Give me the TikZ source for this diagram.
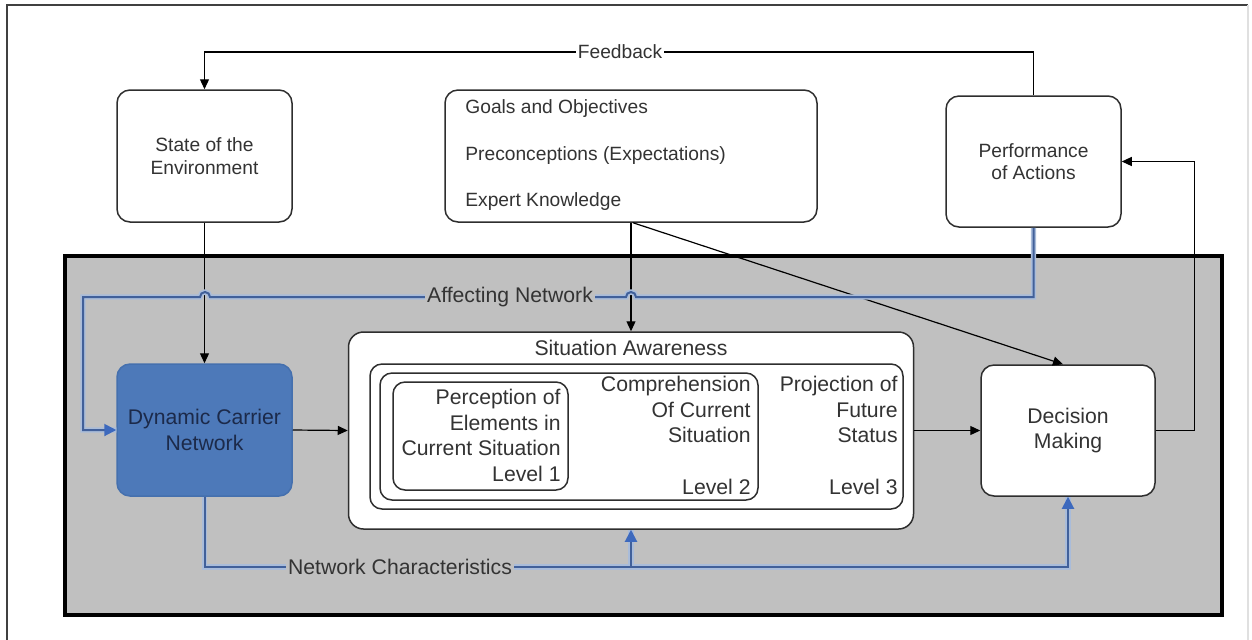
\documentclass[tikz,border=0pt]{standalone}
\usepackage{fontspec}
\setmainfont{Liberation Sans}
\usetikzlibrary{arrows.meta,calc}

\definecolor{panelgray}{HTML}{C0C0C0}
\definecolor{txtgray}{HTML}{333333}
\definecolor{linegray}{HTML}{2E2E2E}
\definecolor{dcnfill}{HTML}{4D79B9}
\definecolor{dcnedge}{HTML}{4570AE}
\definecolor{dcntext}{HTML}{1C2A4A}
\definecolor{netblue}{HTML}{41609A}
\definecolor{halo}{HTML}{A9BCDA}
\definecolor{tipblue}{HTML}{3D69BD}

\begin{document}
\begin{tikzpicture}[x=0.5pt,y=-0.5pt,
  outerfont/.style={font=\fontsize{9.6}{11.25}\selectfont},
  innerfont/.style={font=\fontsize{10.6}{12.75}\selectfont},
  box/.style={draw=linegray, line width=0.75pt, fill=white, rounded corners=6.5pt,
              inner sep=0pt, align=center, text=txtgray},
  conn/.style={draw=black, line width=0.6pt},
  tip/.style={-{Triangle[length=5pt,width=4.5pt]}},
  haloline/.style={draw=halo, line width=2.6pt},
  blueline/.style={draw=netblue, line width=1pt},
  bluetip/.style={-{Triangle[length=6pt,width=6pt,color=tipblue,fill=tipblue]}},
  lbl/.style={inner sep=1pt, text=txtgray}
]
\useasboundingbox (0,0) rectangle (1252,639);

% page frame
\draw[draw=black!75, line width=0.7pt] (7,650) -- (7,5) -- (1248,5);
\draw[draw=black!12, line width=0.6pt] (1248,5) -- (1248,650);

% shaded network panel
\draw[fill=panelgray, draw=black, line width=2pt] (65,256) rectangle (1222,615);

% upper boxes
\node[box, outerfont, minimum width=87.5pt, minimum height=66pt] (state) at (204.5,156)
  {State of the\\Environment};
\node[box, minimum width=186pt, minimum height=66pt] (goals) at (631,156) {};
\node[lbl, outerfont, anchor=west, align=left, inner sep=0pt,
      font=\fontsize{9.6}{23.25}\selectfont] (goalstext) at (465,155.5)
  {Goals and Objectives\\Preconceptions (Expectations)\\Expert Knowledge};
\node[box, outerfont, minimum width=87.5pt, minimum height=65.5pt] (perf) at (1033.5,161.5)
  {Performance\\of Actions};

% boxes inside the panel
\node[box, innerfont, fill=dcnfill, draw=dcnedge, text=dcntext,
      minimum width=87.5pt, minimum height=66pt] (dcn) at (204.5,430)
  {Dynamic Carrier\\Network};
\node[box, innerfont, minimum width=87pt, minimum height=65.5pt] (dm) at (1068,430.5)
  {Decision\\Making};

% situation awareness and its nested levels
\node[box, rounded corners=7.5pt, minimum width=282.5pt, minimum height=98.5pt] (sa) at (631,430.5) {};
\node[lbl, innerfont] (satitle) at (631,348) {Situation Awareness};
\node[box, rounded corners=6pt, minimum width=266.5pt, minimum height=72.5pt] (lvthree) at (636.5,436.5) {};
\node[box, rounded corners=6pt, minimum width=189pt, minimum height=63.5pt] (lvtwo) at (569,436.5) {};
\node[box, rounded corners=6pt, minimum width=87.5pt, minimum height=54pt] (lvone) at (480.5,436) {};

\node[lbl, innerfont, inner sep=0pt, anchor=east, align=right] (lvonetext) at (561,435.5)
  {Perception of\\Elements in\\Current Situation\\Level 1};
\node[lbl, innerfont, inner sep=0pt, anchor=east, align=right] (lvtwotext) at (751,409.5)
  {Comprehension\\Of Current\\Situation};
\node[lbl, innerfont, inner sep=0pt, anchor=east] (lvtwotag) at (751,487) {Level 2};
\node[lbl, innerfont, inner sep=0pt, anchor=east, align=right] (lvthreetext) at (898,409.5)
  {Projection of\\Future\\Status};
\node[lbl, innerfont, inner sep=0pt, anchor=east] (lvthreetag) at (898,487) {Level 3};

% black connectors
\coordinate (fbR) at (1033.5,52);
\coordinate (fbL) at (204.5,52);
\draw[conn,tip] (perf.north) -- (fbR) -- (fbL) -- (state.north);
\node[lbl, outerfont, fill=white] (fblabel) at (620,52) {Feedback};

\draw[conn,tip] (state.south) -- (dcn.north);
\draw[conn,tip] (goals.south) -- (sa.north);
\draw[conn,tip] ([xshift=1pt]goals.south) -- ([xshift=-2.5pt]dm.north);
\draw[conn,tip] (dcn.east) -- (sa.west);
\draw[conn,tip] (sa.east) -- (dm.west);
\draw[conn,tip] (dm.east) -- ++(39,0) |- (perf.east);

% blue connectors: affecting network (with bridges over the black lines)
\def\affpath{(perf.south) |- (636,297)
   arc[start angle=0,end angle=-180,radius=5] -- (210,297)
   arc[start angle=0,end angle=-180,radius=5] -- (83,297) |- (dcn.west)}
\draw[haloline] \affpath;
\draw[blueline,bluetip] \affpath;
\node[lbl, innerfont, fill=panelgray] (aflabel) at (510,297) {Affecting Network};

% blue connectors: network characteristics
\coordinate (ncR) at (1068,567);
\coordinate (ncM) at (631,567);
\def\ncpath{(dcn.south) |- (ncR) -- (dm.south)}
\def\ncbranch{(ncM) -- (sa.south)}
\draw[haloline] \ncpath;
\draw[haloline] \ncbranch;
\draw[blueline,bluetip] \ncpath;
\draw[blueline,bluetip] \ncbranch;
\node[lbl, innerfont, fill=panelgray] (nclabel) at (400,567) {Network Characteristics};
\end{tikzpicture}
\end{document}
